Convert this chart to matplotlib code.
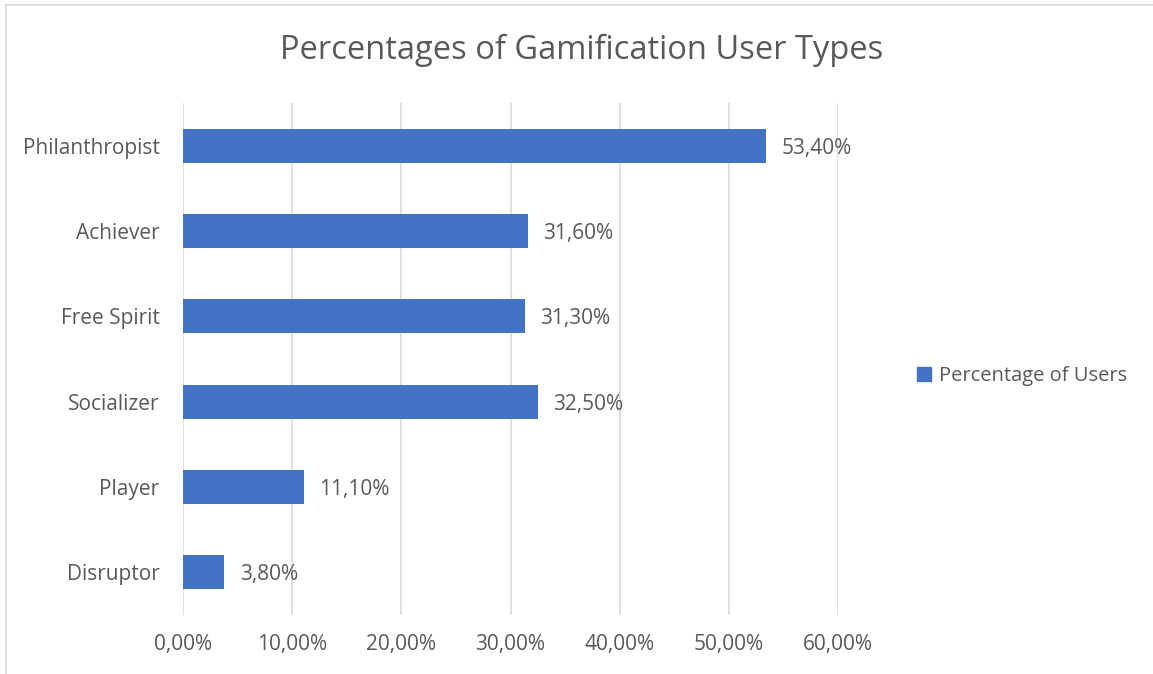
import matplotlib

matplotlib.use("Agg")
import matplotlib.pyplot as plt
from matplotlib.lines import Line2D
from matplotlib.patches import Patch

plt.rcParams["font.family"] = ["Open Sans", "DejaVu Sans"]

user_types = ["Philanthropist", "Achiever", "Free Spirit", "Socializer", "Player", "Disruptor"]
pct_users = [53.4, 31.6, 31.3, 32.5, 11.1, 3.8]
x_ticks = [0, 10, 20, 30, 40, 50, 60]

BAR = "#4472C4"
TXT = "#595959"
GRID = "#D9D9D9"

W, H = 1153, 674
fig = plt.figure(figsize=(W / 100, H / 100), dpi=100)
ax = fig.add_axes([183 / W, 1 - 615 / H, (838 - 183) / W, (615 - 103) / H])

ypos = list(range(len(user_types)))[::-1]
bars = ax.barh(ypos, pct_users, height=0.4, color=BAR, label="Percentage of Users", zorder=3)
for b, v in zip(bars, pct_users):
    ax.text(b.get_width() + 1.4, b.get_y() + b.get_height() / 2 - 0.03,
            f"{v:.2f}%".replace(".", ","), va="center", ha="left",
            fontsize=15, color=TXT)

ax.set_xlim(0, 60)
ax.set_ylim(-0.5, len(user_types) - 0.5)
ax.set_yticks(ypos, user_types)
ax.set_xticks(x_ticks, [f"{t:.2f}%".replace(".", ",") for t in x_ticks])
ax.tick_params(axis="both", length=0, labelsize=15, labelcolor=TXT)
ax.tick_params(axis="y", pad=17)
ax.tick_params(axis="x", pad=14)
ax.grid(axis="x", color=GRID, lw=1.2, zorder=0)
for s in ax.spines.values():
    s.set_visible(False)

fig.text(582 / W, 1 - 50 / H, "Percentages of Gamification User Types",
         ha="center", va="center", fontsize=23.5, color=TXT)

fig.legend(handles=[Patch(color=BAR, label="Percentage of Users")],
           loc="center left", bbox_to_anchor=(899 / W, 1 - 376 / H),
           frameon=False, fontsize=14.5, labelcolor=TXT,
           handlelength=0.7, handleheight=0.7, handletextpad=0.4)

# chart-area border (left and top edges only)
fig.add_artist(Line2D([6 / W, 6 / W], [0, 1 - 5 / H], color=GRID, lw=1.2))
fig.add_artist(Line2D([6 / W, 1], [1 - 5 / H, 1 - 5 / H], color=GRID, lw=1.2))

fig.savefig("out.png", dpi=100)
